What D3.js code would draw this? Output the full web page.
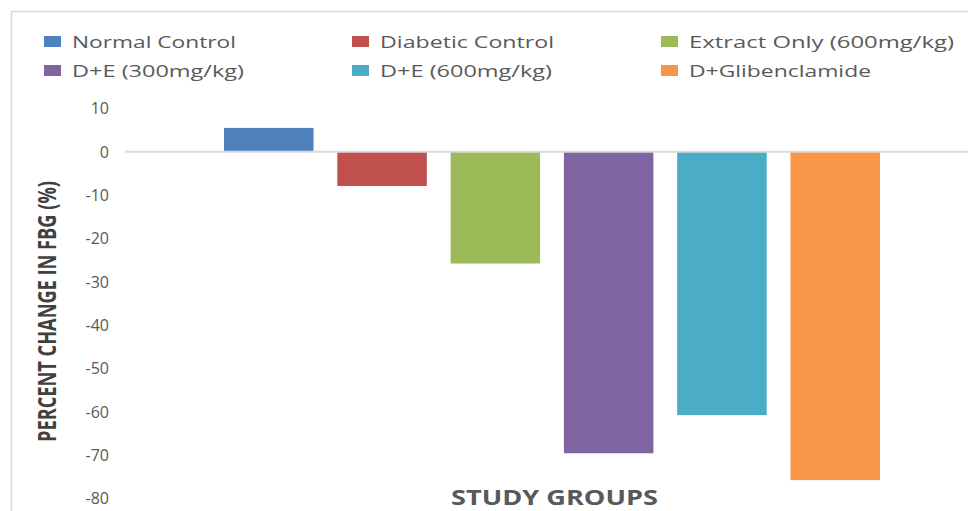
<!DOCTYPE html>
<html>
<head>
<meta charset="utf-8">
<script src="https://cdn.jsdelivr.net/npm/d3@7"></script>
<style>
  html, body { margin: 0; padding: 0; background: #fff; }
  svg { display: block; }
</style>
</head>
<body>
<svg id="chart" width="968" height="511"></svg>
<script>
// ---- data ----
const groups = ["Normal Control", "Diabetic Control", "Extract Only (600mg/kg)", "D+E (300mg/kg)", "D+E (600mg/kg)", "D+Glibenclamide"];
const values = [5.5, -7.9, -25.8, -69.6, -60.8, -75.8];
const colors = ["#4F81BD", "#C0504D", "#9BBB59", "#8064A2", "#4BACC6", "#F79646"];
const yTicks = [10, 0, -10, -20, -30, -40, -50, -60, -70, -80];
const legendTextWidths = [164, 174, 265, 172, 172, 182];
const yTitle = "PERCENT CHANGE IN FBG (%)";
const xTitle = "STUDY GROUPS";

const svg = d3.select("#chart");

// chart border
svg.append("path")
  .attr("d", "M11.5,511 V11.5 H968")
  .attr("fill", "none")
  .attr("stroke", "#d9d9d9")
  .attr("stroke-width", 1.5);

const x = d3.scaleBand().domain(groups).range([125, 979]).paddingInner(0.21).paddingOuter(0.874);
const y = d3.scaleLinear().domain([-80, 10]).range([498.3, 108.4]);

// y axis (labels only)
const yAxis = d3.axisLeft(y).tickValues(yTicks).tickSize(0).tickPadding(0).tickFormat(d => String(d));
const gy = svg.append("g").attr("transform", "translate(109,0)").call(yAxis);
gy.select(".domain").remove();
gy.selectAll("text")
  .attr("fill", "#595959")
  .style("font-family", "'Open Sans', sans-serif")
  .style("font-size", "16px")
  .attr("dy", "0.34em");

// bars
svg.append("g").selectAll("rect").data(groups).join("rect")
  .attr("x", d => x(d))
  .attr("width", x.bandwidth())
  .attr("y", (d, i) => y(Math.max(0, values[i])))
  .attr("height", (d, i) => Math.abs(y(values[i]) - y(0)))
  .attr("fill", (d, i) => colors[i]);

// zero line
svg.append("line")
  .attr("x1", 125).attr("x2", 968)
  .attr("y1", y(0)).attr("y2", y(0))
  .attr("stroke", "#d9d9d9").attr("stroke-width", 2);

// legend
const colX = [44, 352, 661];
const rowY = [42, 71];
const leg = svg.append("g").selectAll("g").data(groups).join("g")
  .attr("transform", (d, i) => `translate(${colX[i % 3]},${rowY[Math.floor(i / 3)]})`);
leg.append("rect")
  .attr("x", 0).attr("y", -6).attr("width", 17).attr("height", 11)
  .attr("fill", (d, i) => colors[i]);
leg.append("text")
  .attr("x", 28).attr("y", 0).attr("dy", "0.35em")
  .attr("fill", "#595959")
  .style("font-family", "'Open Sans', sans-serif")
  .style("font-size", "17px")
  .attr("textLength", (d, i) => legendTextWidths[i])
  .attr("lengthAdjust", "spacingAndGlyphs")
  .text(d => d);

// y title
svg.append("text")
  .attr("transform", "translate(56,311.5) rotate(-90)")
  .attr("text-anchor", "middle")
  .attr("fill", "#404040")
  .style("font-family", "'Open Sans', sans-serif")
  .style("font-weight", "bold")
  .style("font-size", "25px")
  .attr("textLength", 261)
  .attr("lengthAdjust", "spacingAndGlyphs")
  .text(yTitle);

// x title
svg.append("text")
  .attr("x", 451).attr("y", 504.5)
  .attr("fill", "#595959")
  .style("font-family", "'Open Sans', sans-serif")
  .style("font-weight", "bold")
  .style("font-size", "21px")
  .attr("textLength", 207)
  .attr("lengthAdjust", "spacingAndGlyphs")
  .text(xTitle);
</script>
</body>
</html>
